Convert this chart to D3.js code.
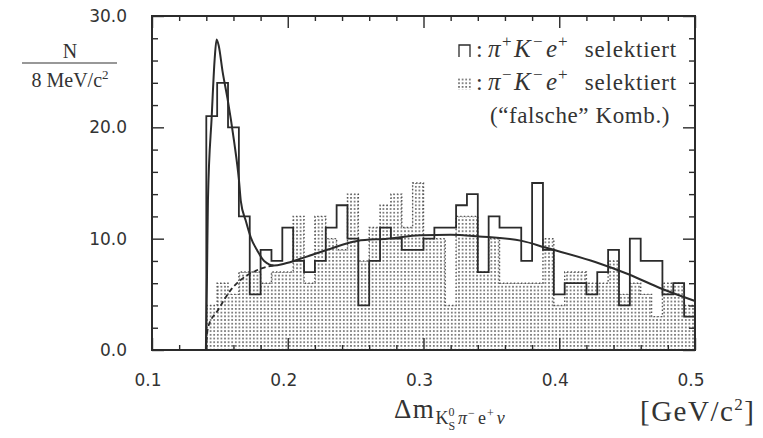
<!DOCTYPE html>
<html>
<head>
<meta charset="utf-8">
<script src="https://cdn.jsdelivr.net/npm/d3@7/dist/d3.min.js"></script>
<style>
  html, body { margin: 0; padding: 0; background: #fff; }
  svg { display: block; }
</style>
</head>
<body>
<script>
// Δm spectrum: 8 MeV/c² bins from 0.14 to 0.50 GeV/c²
const binStart = 0.14;
const binWidth = 0.008;

// π+ K- e+ selected (open histogram)
const rightSignCounts = [21,24,20,12,5,9,8,11,8,7,8,11,13,10,4,8,11,10,9,9,10,11,11,13,14,7,12,11,11,8,15,9,5,6,6,5,7,9,4,10,8,8,5,6,3];
// π- K- e+ selected, "wrong" combination (stippled histogram)
const wrongSignCounts = [4,6,5,7,7,6,7,7,12,6,12,10,9,14,8,11,13,14,11,15,10,10,4,12,12,7,10,6,6,6,6,10,4,7,7,6,6,8,5,6,5,3,6,6,4];

// fitted curve (signal + background)
const fitX = [0.1397,0.1405,0.1412,0.1440,0.1462,0.1476,0.1492,0.1520,0.1556,0.1604,0.1641,0.1654,0.1691,0.1728,0.1777,0.1826,0.1899,0.1973,0.2119,0.2291,0.2512,0.2733,0.2978,0.3200,0.3407,0.3725,0.3897,0.4265,0.4510,0.4755,0.5000];
const fitY = [0,6.5,13.4,21.0,26.2,27.9,27.3,25.0,22.6,18.8,15.2,13.4,11.6,10.1,8.9,8.0,7.6,7.75,8.3,9.0,9.8,10.0,10.3,10.35,10.2,9.8,9.2,7.9,6.8,5.5,4.4];

// background part of the fit near threshold (dashed)
const bgX = [0.1397,0.1412,0.1487,0.1581,0.1654,0.1728,0.1826,0.1899];
const bgY = [0,2.0,3.6,5.4,6.3,6.9,7.4,7.6];

// axis ticks and labels
const xMajor = [0.1,0.2,0.3,0.4,0.5];
const xLabels = ["0.1","0.2","0.3","0.4","0.5"];
const yMajor = [0,10,20,30];
const yLabels = ["0.0","10.0","20.0","30.0"];

const W = 763, H = 438;
const ink = "#2b2b2b";
const serif = "Liberation Serif";
const sans = "DejaVu Sans";

const svg = d3.select("body").append("svg").attr("width", W).attr("height", H);
svg.append("rect").attr("width", W).attr("height", H).attr("fill", "#fff");

const x = d3.scaleLinear().domain([0.1, 0.5]).range([152, 695]);
const y = d3.scaleLinear().domain([0, 30]).range([350, 16]);

// stipple pattern for the wrong-sign histogram
const defs = svg.append("defs");
const pat = defs.append("pattern").attr("id", "stipple")
  .attr("patternUnits", "userSpaceOnUse").attr("width", 3.6).attr("height", 3.7);
pat.append("rect").attr("x", 1).attr("y", 1).attr("width", 1.6).attr("height", 1.6).attr("fill", "#5c5c5c");

const edges = d3.range(rightSignCounts.length + 1).map(i => binStart + i * binWidth);

// stippled histogram
const wrongData = wrongSignCounts.map((c, i) => ({ x: edges[i], c }));
wrongData.push({ x: edges[edges.length - 1], c: wrongSignCounts[wrongSignCounts.length - 1] });
svg.append("path")
  .datum(wrongData)
  .attr("fill", "url(#stipple)")
  .attr("d", d3.area().curve(d3.curveStepAfter).x(d => x(d.x)).y0(y(0)).y1(d => y(d.c)));
svg.append("path")
  .datum(wrongData)
  .attr("fill", "none").attr("stroke", "#555").attr("stroke-width", 1.4)
  .attr("stroke-dasharray", "1.5,2.1")
  .attr("d", d3.line().curve(d3.curveStepAfter).x(d => x(d.x)).y(d => y(d.c)));

// open histogram
const stepPts = [[edges[0], 0]];
rightSignCounts.forEach((c, i) => { stepPts.push([edges[i], c]); stepPts.push([edges[i + 1], c]); });
svg.append("path")
  .datum(stepPts)
  .attr("fill", "none").attr("stroke", ink).attr("stroke-width", 1.8)
  .attr("stroke-linejoin", "miter")
  .attr("d", d3.line().x(d => x(d[0])).y(d => y(d[1])));

// fit curves
svg.append("path")
  .datum(fitX.map((v, i) => [v, fitY[i]]))
  .attr("fill", "none").attr("stroke", ink).attr("stroke-width", 2)
  .attr("d", d3.line().curve(d3.curveMonotoneX).x(d => x(d[0])).y(d => y(d[1])));
svg.append("path")
  .datum(bgX.map((v, i) => [v, bgY[i]]))
  .attr("fill", "none").attr("stroke", ink).attr("stroke-width", 1.8)
  .attr("stroke-dasharray", "5,3")
  .attr("d", d3.line().curve(d3.curveMonotoneX).x(d => x(d[0])).y(d => y(d[1])));

// frame
svg.append("rect")
  .attr("x", x(0.1)).attr("y", y(30))
  .attr("width", x(0.5) - x(0.1)).attr("height", y(0) - y(30))
  .attr("fill", "none").attr("stroke", ink).attr("stroke-width", 2);

// ticks (inward on all four sides)
const xMinor = d3.range(0.12, 0.5, 0.02).filter(v => !xMajor.some(m => Math.abs(m - v) < 1e-6));
const yMinor = d3.range(2, 30, 2).filter(v => v % 10 !== 0);

function ticksGroup(axisFn, scale, vals, size, tx, ty) {
  const g = svg.append("g").attr("transform", `translate(${tx},${ty})`)
    .call(axisFn(scale).tickValues(vals).tickSize(size).tickFormat(""));
  g.select(".domain").remove();
  g.selectAll("line").attr("stroke", ink).attr("stroke-width", 1.4);
  return g;
}
ticksGroup(d3.axisBottom, x, xMinor, -5, 0, y(0));
ticksGroup(d3.axisBottom, x, xMajor, -12, 0, y(0));
ticksGroup(d3.axisTop, x, xMinor, -5, 0, y(30));
ticksGroup(d3.axisTop, x, xMajor, -12, 0, y(30));
ticksGroup(d3.axisLeft, y, yMinor, -6, x(0.1), 0);
ticksGroup(d3.axisLeft, y, yMajor, -12, x(0.1), 0);
ticksGroup(d3.axisRight, y, yMinor, -6, x(0.5), 0);
ticksGroup(d3.axisRight, y, yMajor, -12, x(0.5), 0);

// tick labels
svg.append("g").selectAll("text").data(yMajor).join("text")
  .attr("x", 127).attr("y", d => y(d)).attr("dy", "0.36em")
  .attr("text-anchor", "end").attr("font-family", sans).attr("font-size", 17)
  .attr("fill", "#333").text((d, i) => yLabels[i]);
svg.append("g").selectAll("text").data(xMajor).join("text")
  .attr("x", d => x(d) - 4).attr("y", 386)
  .attr("text-anchor", "middle").attr("font-family", sans).attr("font-size", 17)
  .attr("fill", "#333").text((d, i) => xLabels[i]);

// y-axis title: N / (8 MeV/c²)
svg.append("text").attr("x", 70).attr("y", 58).attr("text-anchor", "middle")
  .attr("font-family", serif).attr("font-size", 20).attr("fill", "#333").text("N");
svg.append("line").attr("x1", 22).attr("x2", 117).attr("y1", 63).attr("y2", 63)
  .attr("stroke", "#333").attr("stroke-width", 1.2);
const den = svg.append("text").attr("x", 70).attr("y", 87).attr("text-anchor", "middle")
  .attr("font-family", serif).attr("font-size", 20).attr("fill", "#333");
den.append("tspan").text("8 MeV/c");
den.append("tspan").attr("dy", -8).attr("font-size", 13).text("2");

// x-axis title
const xt = svg.append("text").attr("x", 394).attr("y", 418)
  .attr("font-family", serif).attr("font-size", 27).attr("fill", "#333");
xt.append("tspan").attr("letter-spacing", 1.5).text("Δm");
xt.append("tspan").attr("dy", 6).attr("font-size", 18).text("K");
xt.append("tspan").attr("dy", -8).attr("font-size", 12).text("0");
xt.append("tspan").attr("dx", -6).attr("dy", 14).attr("font-size", 12).text("S");
xt.append("tspan").attr("dy", -6).attr("dx", 3).attr("font-size", 18).attr("font-style", "italic").text("π");
xt.append("tspan").attr("dy", -7).attr("dx", 1).attr("font-size", 12).text("−");
xt.append("tspan").attr("dy", 7).attr("dx", 3).attr("font-size", 18).text("e");
xt.append("tspan").attr("dy", -7).attr("dx", 1).attr("font-size", 12).text("+");
xt.append("tspan").attr("dy", 7).attr("dx", 3).attr("font-size", 18).attr("font-style", "italic").text("ν");

const ut = svg.append("text").attr("x", 640).attr("y", 421)
  .attr("font-family", serif).attr("font-size", 29).attr("letter-spacing", 1.5).attr("fill", "#333");
ut.append("tspan").text("[GeV/c");
ut.append("tspan").attr("dy", -11).attr("font-size", 17).text("2");
ut.append("tspan").attr("dy", 11).text("]");

// legend
const leg = svg.append("g");
leg.append("path").attr("d", "M459,57 V45 H470 V57")
  .attr("fill", "none").attr("stroke", ink).attr("stroke-width", 1.3);
leg.append("rect").attr("x", 458).attr("y", 78).attr("width", 13).attr("height", 12)
  .attr("fill", "url(#stipple)");

function legendLine(yb, sign) {
  const txt = (xp, s, size, italic, dy) => leg.append("text")
    .attr("x", xp).attr("y", yb + (dy || 0))
    .attr("font-family", serif).attr("font-size", size)
    .attr("font-style", italic ? "italic" : "normal")
    .attr("fill", "#333").text(s);
  txt(476, ":", 24, false);
  txt(488, "π", 25, true);
  txt(502, sign, 17, false, -10);
  txt(514, "K", 25, true);
  txt(533, "−", 17, false, -10);
  txt(546, "e", 25, true);
  txt(558, "+", 17, false, -10);
  txt(677, "selektiert", 23, false).attr("text-anchor", "end").attr("letter-spacing", 0.8);
}
legendLine(57, "+");
legendLine(90, "−");
leg.append("text").attr("x", 670).attr("y", 123).attr("text-anchor", "end")
  .attr("font-family", serif).attr("font-size", 23).attr("fill", "#333")
  .attr("letter-spacing", 0.6)
  .text("(“falsche” Komb.)");
</script>
</body>
</html>
